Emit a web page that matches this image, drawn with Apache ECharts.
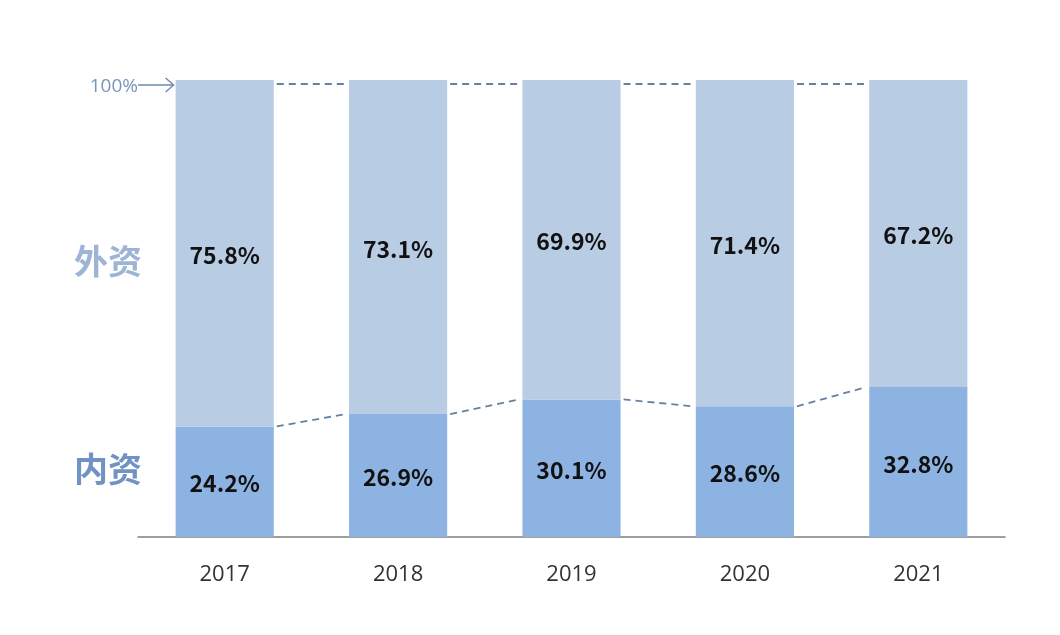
<!DOCTYPE html>
<html><head><meta charset="utf-8">
<script src="https://cdn.jsdelivr.net/npm/echarts@6/dist/echarts.min.js"></script>
<style>html,body{margin:0;padding:0;background:#fff;}#c{width:1060px;height:635px;}</style>
</head><body><div id="c"></div>
<script>
const years = ['2017','2018','2019','2020','2021'];
const domestic = [24.2, 26.9, 30.1, 28.6, 32.8];   // 内资
const foreign = [75.8, 73.1, 69.9, 71.4, 67.2];    // 外资
const seriesNames = ['内资', '外资'];
const topLabel = '100%';

const BAR_FRAC = 0.566;
const cjk = '"Microsoft YaHei","Noto Sans CJK SC","Noto Sans",sans-serif';

const chart = echarts.init(document.getElementById('c'));

const innerLinks = [];
const topLinks = [];
for (let i = 0; i < years.length - 1; i++) {
  innerLinks.push([i, domestic[i], domestic[i + 1]]);
  topLinks.push([i, domestic[i] + foreign[i], domestic[i + 1] + foreign[i + 1]]);
}

function linkRender(dy) {
  return function (params, api) {
    const i = api.value(0);
    const p1 = api.coord([i, api.value(1)]);
    const p2 = api.coord([i + 1, api.value(2)]);
    const band = api.size([1, 0])[0];
    const half = band * BAR_FRAC / 2;
    return {
      type: 'line',
      shape: { x1: p1[0] + half + 3, y1: p1[1] + dy, x2: p2[0] - half - 3, y2: p2[1] + dy },
      style: { stroke: '#66809f', lineWidth: 1.8, lineDash: [7, 5] },
      silent: true
    };
  };
}

function arrowRender(params, api) {
  const p = api.coord([0, api.value(1)]);
  const band = api.size([1, 0])[0];
  const half = band * BAR_FRAC / 2;
  const x0 = params.coordSys.x;
  const x1 = p[0] - half - 2;
  const y = p[1] + 5;
  return {
    type: 'group',
    children: [
      { type: 'text', style: { x: x0, y: y + 2, text: topLabel, align: 'right', verticalAlign: 'middle', fill: '#7a95bb', fontSize: 19, fontFamily: '"Open Sans","Noto Sans",sans-serif' } },
      { type: 'line', shape: { x1: x0, y1: y, x2: x1, y2: y }, style: { stroke: '#6f8aad', lineWidth: 1.4 } },
      { type: 'polyline', shape: { points: [[x1 - 8, y - 7], [x1, y], [x1 - 8, y + 7]] }, style: { stroke: '#6f8aad', lineWidth: 1.4, fill: null } }
    ],
    silent: true
  };
}

const valueLabel = {
  show: true,
  position: 'inside',
  offset: [0, 2],
  fontFamily: cjk,
  fontWeight: 'bold',
  fontSize: 23,
  color: '#111111',
  formatter: p => p.value.toFixed(1) + '%'
};

chart.setOption({
  animation: false,
  grid: { left: 138, right: 55, top: 80, bottom: 98 },
  xAxis: {
    type: 'category',
    data: years,
    axisLine: { show: true, lineStyle: { color: '#7f7f7f', width: 1.5 } },
    axisTick: { show: false },
    axisLabel: { color: '#333333', fontSize: 22, margin: 27, fontFamily: '"Open Sans","Noto Sans",sans-serif' }
  },
  yAxis: {
    type: 'value',
    min: 0, max: 100, interval: 100,
    splitLine: { show: false },
    axisLine: { show: false },
    axisTick: { show: false },
    axisLabel: { show: false }
  },
  series: [
    {
      name: seriesNames[0], type: 'bar', stack: 'all', data: domestic,
      barWidth: (BAR_FRAC * 100) + '%',
      itemStyle: { color: '#8db3e2' },
      label: valueLabel
    },
    {
      name: seriesNames[1], type: 'bar', stack: 'all', data: foreign,
      barWidth: (BAR_FRAC * 100) + '%',
      itemStyle: { color: '#b8cce4' },
      label: valueLabel
    },
    { type: 'custom', renderItem: linkRender(0), data: innerLinks, z: 5, silent: true },
    { type: 'custom', renderItem: linkRender(4), data: topLinks, z: 5, silent: true },
    { type: 'custom', renderItem: arrowRender, data: [[0, 100]], z: 5, silent: true, clip: false }
  ],
  graphic: [
    { type: 'text', left: 74, top: 244, style: { text: seriesNames[1], fontSize: 34, fontWeight: 'bold', fontFamily: cjk, fill: '#9db4d6' } },
    { type: 'text', left: 74, top: 452, style: { text: seriesNames[0], fontSize: 34, fontWeight: 'bold', fontFamily: cjk, fill: '#7093c4' } }
  ]
});
</script>
</body></html>
